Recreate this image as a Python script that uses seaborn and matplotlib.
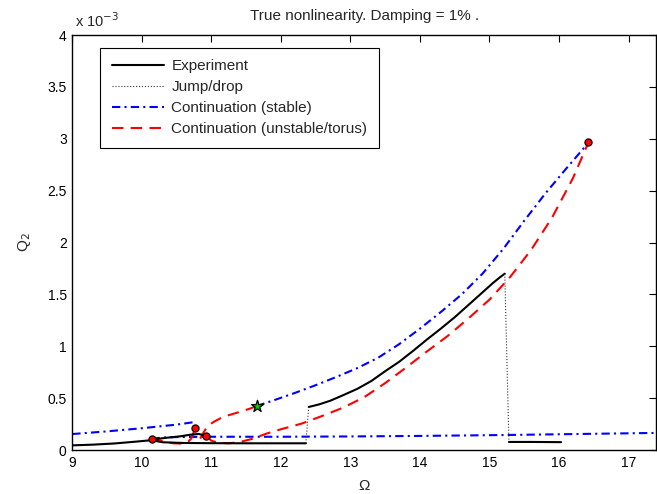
import numpy as np
import pandas as pd
import matplotlib
matplotlib.use("Agg")
import matplotlib.pyplot as plt
from matplotlib.lines import Line2D
from matplotlib.ticker import FuncFormatter
import seaborn as sns

# ---- data (Q2 in units of 1e-3) ----
exp_low_x = [9.0, 9.3, 9.6, 9.9, 10.14, 10.3, 10.6, 11.0, 11.5, 12.0, 12.36]
exp_low_y = [0.045, 0.052, 0.063, 0.08, 0.095, 0.075, 0.068, 0.066, 0.065, 0.065, 0.065]
exp_bump_x = [10.14, 10.35, 10.55, 10.7, 10.82, 10.93]
exp_bump_y = [0.10, 0.118, 0.132, 0.148, 0.155, 0.135]
exp_up_x = [12.40, 12.55, 12.71, 12.9, 13.1, 13.3, 13.5, 13.7, 13.9, 14.1, 14.3, 14.5, 14.7, 14.9, 15.05, 15.15, 15.22]
exp_up_y = [0.415, 0.44, 0.475, 0.53, 0.59, 0.665, 0.76, 0.85, 0.955, 1.065, 1.17, 1.28, 1.40, 1.52, 1.61, 1.665, 1.70]
exp_right_x = [15.28, 15.6, 16.03]
exp_right_y = [0.078, 0.078, 0.076]

jump_x = [12.36, 12.40]
jump_y = [0.065, 0.415]
drop_x = [15.22, 15.28]
drop_y = [1.70, 0.078]

stab_left_x = [9.0, 9.5, 10.0, 10.5, 10.74, 10.77]
stab_left_y = [0.154, 0.18, 0.21, 0.245, 0.268, 0.22]
stab_flat_x = [10.14, 10.3, 10.5, 11.0, 12.0, 13.0, 14.0, 15.25, 16.0, 17.4]
stab_flat_y = [0.11, 0.12, 0.125, 0.128, 0.128, 0.131, 0.136, 0.145, 0.152, 0.165]
stab_up_x = [11.65, 11.9, 12.2, 12.5, 12.8, 13.1, 13.4, 13.7, 14.0, 14.3, 14.6, 14.9, 15.2, 15.5, 15.8, 16.1, 16.42]
stab_up_y = [0.424, 0.48, 0.55, 0.625, 0.705, 0.79, 0.89, 1.02, 1.17, 1.33, 1.50, 1.70, 1.94, 2.21, 2.47, 2.71, 2.96]

unst_dip_x = [10.14, 10.3, 10.45, 10.58, 10.66, 10.71, 10.74, 10.77]
unst_dip_y = [0.11, 0.085, 0.065, 0.062, 0.075, 0.11, 0.16, 0.212]
unst_rise_x = [10.84, 10.88, 10.94, 11.03, 11.17, 11.37, 11.56, 11.65]
unst_rise_y = [0.11, 0.16, 0.225, 0.27, 0.32, 0.36, 0.40, 0.424]
unst_low_x = [10.93, 11.0, 11.1, 11.25, 11.4, 11.6, 11.8, 12.0, 12.3, 12.6, 12.9, 13.2, 13.5, 13.8, 14.1, 14.4, 14.7, 15.0, 15.3, 15.6, 15.9, 16.2, 16.42]
unst_low_y = [0.135, 0.09, 0.07, 0.065, 0.075, 0.11, 0.16, 0.20, 0.255, 0.33, 0.41, 0.51, 0.645, 0.795, 0.95, 1.10, 1.27, 1.45, 1.67, 1.93, 2.24, 2.62, 2.96]

bif_x = [10.14, 10.77, 10.93, 16.42]
bif_y = [0.11, 0.212, 0.135, 2.965]
star_x = [11.65]
star_y = [0.424]

xticks = [9, 10, 11, 12, 13, 14, 15, 16, 17]
yticks = [0, 0.5, 1, 1.5, 2, 2.5, 3, 3.5, 4]

# ---- style ----
sns.set_style("white")
plt.rcParams['font.family'] = ['Liberation Sans', 'DejaVu Sans']
plt.rcParams['font.size'] = 10

fig = plt.figure(figsize=(6.57, 4.94), dpi=100)
ax = fig.add_axes([0.110, 0.089, 0.889, 0.840])

lw = 1.5
blue_dash = (4, 2, 1, 2)
red_dash = (5.5, 3.5)

def line(x, y, **kw):
    sns.lineplot(x=x, y=y, ax=ax, sort=False, estimator=None, **kw)

for xs, ys in [(stab_left_x, stab_left_y), (stab_flat_x, stab_flat_y), (stab_up_x, stab_up_y)]:
    line(xs, ys, color='#0000ff', lw=lw, dashes=blue_dash)
for xs, ys in [(unst_dip_x, unst_dip_y), (unst_rise_x, unst_rise_y), (unst_low_x, unst_low_y)]:
    line(xs, ys, color='#ff0000', lw=lw, dashes=red_dash)
for xs, ys in [(exp_low_x, exp_low_y), (exp_bump_x, exp_bump_y), (exp_up_x, exp_up_y), (exp_right_x, exp_right_y)]:
    line(xs, ys, color='black', lw=1.5)
for xs, ys in [(jump_x, jump_y), (drop_x, drop_y)]:
    line(xs, ys, color='#333333', lw=0.8, linestyle=':')

sns.scatterplot(x=bif_x, y=bif_y, ax=ax, color='#ff0000', edgecolor='black', s=26, linewidth=0.9, zorder=5)
sns.scatterplot(x=star_x, y=star_y, ax=ax, color='#00cc00', edgecolor='black', marker='*', s=80, linewidth=0.9, zorder=5)

ax.set_xlim(9, 17.4)
ax.set_ylim(0, 4)
ax.set_xticks(xticks)
ax.set_yticks(yticks)
ax.yaxis.set_major_formatter(FuncFormatter(lambda v, p: '%g' % v))
ax.tick_params(direction='in', length=5, width=0.8, top=True, right=True, labelsize=10, pad=4, colors='black')
for s in ax.spines.values():
    s.set_visible(True)
    s.set_color('black')
    s.set_linewidth(1.0)

ax.set_xlabel('Ω', fontsize=11, labelpad=7)
ax.set_ylabel('Q$_2$', fontsize=11, labelpad=10)
ax.set_title('True nonlinearity. Damping = 1% .', fontsize=11, pad=11)
ax.text(0.005, 1.012, 'x 10$^{-3}$', transform=ax.transAxes, fontsize=10.5, va='bottom', ha='left')

handles = [
    Line2D([], [], color='black', lw=1.5),
    Line2D([], [], color='#333333', lw=0.8, linestyle=':'),
    Line2D([], [], color='#0000ff', lw=lw, dashes=blue_dash),
    Line2D([], [], color='#ff0000', lw=lw, dashes=red_dash),
]
labels = ['Experiment', 'Jump/drop', 'Continuation (stable)', 'Continuation (unstable/torus)']
leg = ax.legend(handles, labels, loc='upper left', bbox_to_anchor=(0.048, 0.970),
                frameon=True, fancybox=False, edgecolor='black', framealpha=1,
                fontsize=11, handlelength=3.4, handletextpad=0.5, borderpad=0.75,
                labelspacing=0.46, borderaxespad=0)
leg.get_frame().set_linewidth(0.8)

fig.savefig('out.png', dpi=100)
